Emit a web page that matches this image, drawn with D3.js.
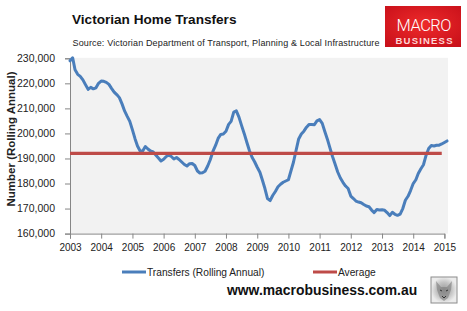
<!DOCTYPE html>
<html>
<head>
<meta charset="utf-8">
<script src="https://cdn.jsdelivr.net/npm/d3@7"></script>
<style>
  body { margin: 0; background: #fff; }
  svg { display: block; font-family: "Liberation Sans", Arial, sans-serif; }
</style>
</head>
<body>
<div id="chart"></div>
<script>
// monthly rolling annual transfers, Jan 2003 .. Feb 2015
const startMonth = new Date(2003, 0, 1);
const transfers = [
  229000, 230200, 225400, 223600, 222800, 221400, 219500, 217600, 218400, 217800, 218200, 220000,
  220900, 220800, 220400, 219600, 218000, 216500, 215500, 214300, 211800, 209000, 206800, 204800,
  201400, 197800, 195000, 193000, 193000, 194800, 193800, 193000, 192600, 191400, 190200, 189000,
  189700, 190800, 191300, 190800, 189800, 190400, 189600, 188600, 187600, 187000, 187900, 188000,
  187200, 185000, 184200, 184300, 184900, 187000, 189500, 192800, 195200, 198000, 199600, 199800,
  200900, 203600, 204800, 208500, 209000, 206500, 203200, 200000, 196500, 193200, 190500, 188700,
  186500, 184500, 181500, 178000, 174000, 173200, 175200, 176800, 178700, 179700, 180500, 181000,
  181500, 185200, 188500, 193300, 197800, 199800, 200900, 202500, 203600, 203600, 203500, 205000,
  205500, 204000, 201000, 197800, 194300, 190800, 187800, 184600, 182200, 180500, 179000, 178000,
  175000, 174000, 173000, 172600, 172300, 171600, 171000, 170700, 169400, 168400, 169600, 169400,
  169500, 169300, 168400, 167200, 168500, 167700, 167300, 167800, 170000, 173300, 174900, 177200,
  180000, 181500, 184000, 185900, 187500, 191300, 194000, 195200, 195000, 195300, 195300, 195800,
  196400, 197000
];
const averageValue = 192000;
const averageEnd = new Date(2014, 11, 1);
const yTicks = [160000, 170000, 180000, 190000, 200000, 210000, 220000, 230000];
const xYears = [2003, 2004, 2005, 2006, 2007, 2008, 2009, 2010, 2011, 2012, 2013, 2014, 2015];
const seriesNames = ["Transfers (Rolling Annual)", "Average"];

const blue = "#4a7ebb";
const red = "#be4b48";
const axisGray = "#868686";

const W = 467, H = 311;
const plot = { left: 70, right: 444.4, top: 58.3, bottom: 233.6, bgRight: 448 };

const svg = d3.select("#chart").append("svg")
  .attr("width", W)
  .attr("height", H);

const data = transfers.map((v, i) => ({ date: d3.timeMonth.offset(startMonth, i), value: v }));
const avgData = data.filter(d => d.date <= averageEnd).map(d => ({ date: d.date, value: averageValue }));

const x = d3.scaleTime()
  .domain([new Date(2003, 0, 1), new Date(2015, 0, 1)])
  .range([plot.left, plot.right]);

const y = d3.scaleLinear()
  .domain([160000, 230000])
  .range([plot.bottom, plot.top]);

// plot background
svg.append("rect")
  .attr("x", plot.left)
  .attr("y", plot.top - 0.5)
  .attr("width", plot.bgRight - plot.left)
  .attr("height", plot.bottom - plot.top + 0.5)
  .attr("fill", "#f2f2f2");

// y axis
const yAxis = svg.append("g")
  .attr("transform", `translate(${plot.left},0)`)
  .call(d3.axisLeft(y).tickValues(yTicks).tickSize(5).tickPadding(10).tickFormat(d3.format(",")));
yAxis.select(".domain").attr("stroke", axisGray);
yAxis.selectAll(".tick line").attr("stroke", axisGray);
yAxis.selectAll(".tick text")
  .attr("font-size", 10.5)
  .attr("fill", "#222")
  .attr("font-family", "Liberation Sans, Arial, sans-serif");

// x axis
const xAxis = svg.append("g")
  .attr("transform", `translate(0,${plot.bottom})`)
  .call(d3.axisBottom(x)
    .tickValues(xYears.map(yr => new Date(yr, 0, 1)))
    .tickSize(5).tickPadding(5)
    .tickFormat(d3.timeFormat("%Y")));
xAxis.select(".domain").attr("stroke", axisGray);
xAxis.selectAll(".tick line").attr("stroke", axisGray);
xAxis.selectAll(".tick text")
  .attr("font-size", 10)
  .attr("fill", "#222")
  .attr("font-family", "Liberation Sans, Arial, sans-serif");

// lines
const line = d3.line()
  .x(d => x(d.date))
  .y(d => y(d.value));

svg.append("path")
  .datum(data)
  .attr("fill", "none")
  .attr("stroke", blue)
  .attr("stroke-width", 3)
  .attr("stroke-linejoin", "round")
  .attr("stroke-linecap", "round")
  .attr("d", line);

svg.append("path")
  .datum(avgData)
  .attr("fill", "none")
  .attr("stroke", red)
  .attr("stroke-width", 3.2)
  .attr("d", line);

// y axis title
svg.append("text")
  .attr("transform", "translate(15,139) rotate(-90)")
  .attr("text-anchor", "middle")
  .attr("font-size", 11.5)
  .attr("font-weight", "bold")
  .attr("fill", "#222")
  .text("Number (Rolling Annual)");

// title + source
svg.append("text")
  .attr("x", 72).attr("y", 24)
  .attr("font-size", 13.6)
  .attr("font-weight", "bold")
  .attr("fill", "#111")
  .text("Victorian Home Transfers");

svg.append("text")
  .attr("x", 72.5).attr("y", 46)
  .attr("font-size", 9)
  .attr("font-family", "Liberation Sans, Arial, sans-serif")
  .attr("textLength", 307)
  .attr("lengthAdjust", "spacing")
  .attr("fill", "#222")
  .text("Source: Victorian Department of Transport, Planning & Local Infrastructure");

// legend
const legend = [
  { name: seriesNames[0], color: blue, x: 122 },
  { name: seriesNames[1], color: red, x: 313 }
];
const lg = svg.selectAll(".legend").data(legend).enter().append("g")
  .attr("class", "legend")
  .attr("transform", d => `translate(${d.x},272)`);
lg.append("line")
  .attr("x1", 0).attr("x2", 24)
  .attr("stroke", d => d.color)
  .attr("stroke-width", 3);
lg.append("text")
  .attr("x", 25).attr("y", 3.6)
  .attr("font-size", 10.2)
  .attr("fill", "#222")
  .text(d => d.name);

// footer url
svg.append("text")
  .attr("x", 227).attr("y", 295)
  .attr("font-size", 13.9)
  .attr("font-weight", "bold")
  .attr("fill", "#111")
  .text("www.macrobusiness.com.au");

// wolf badge
const defs = svg.append("defs");
const wolfGrad = defs.append("radialGradient").attr("id", "wolf");
wolfGrad.append("stop").attr("offset", "0%").attr("stop-color", "#9a9a9a");
wolfGrad.append("stop").attr("offset", "60%").attr("stop-color", "#c4c4c4");
wolfGrad.append("stop").attr("offset", "100%").attr("stop-color", "#ececec");
const badge = svg.append("g").attr("transform", "translate(431,277)");
badge.append("rect")
  .attr("width", 26).attr("height", 26)
  .attr("fill", "url(#wolf)")
  .attr("stroke", "#8c8c8c");
badge.append("path")
  .attr("d", "M5,4 L10,10 L16,10 L21,4 L20,13 L17,21 L13,24 L9,21 L6,13 Z")
  .attr("fill", "#7d7d7d")
  .attr("opacity", 0.6);
badge.append("path")
  .attr("d", "M9,13 L11,14 M17,13 L15,14 M11,19 L13,21 L15,19")
  .attr("stroke", "#333")
  .attr("stroke-width", 1)
  .attr("fill", "none");

// macro business logo
const logoGrad = defs.append("radialGradient").attr("id", "logo")
  .attr("cx", "50%").attr("cy", "45%").attr("r", "70%");
logoGrad.append("stop").attr("offset", "0%").attr("stop-color", "#ee2a2a");
logoGrad.append("stop").attr("offset", "100%").attr("stop-color", "#c8101a");
svg.append("rect")
  .attr("x", 385).attr("y", 6)
  .attr("width", 76).attr("height", 41)
  .attr("fill", "url(#logo)");
svg.append("text")
  .attr("x", 424).attr("y", 30.5)
  .attr("text-anchor", "middle")
  .attr("font-size", 16.5)
  .attr("font-family", "Roboto, sans-serif")
  .attr("font-weight", 300)
  .attr("textLength", 55)
  .attr("lengthAdjust", "spacing")
  .attr("fill", "#fff")
  .text("MACRO");
svg.append("text")
  .attr("x", 424).attr("y", 44)
  .attr("text-anchor", "middle")
  .attr("font-size", 9.5)
  .attr("font-family", "Liberation Sans, Arial, sans-serif")
  .attr("font-weight", "bold")
  .attr("textLength", 57)
  .attr("lengthAdjust", "spacing")
  .attr("fill", "#ffd6d6")
  .text("BUSINESS");
</script>
</body>
</html>
